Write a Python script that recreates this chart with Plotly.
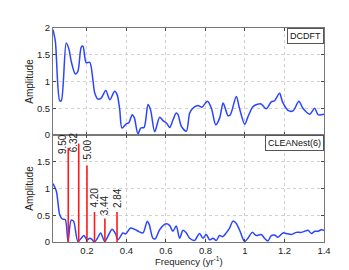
import plotly.graph_objects as go

# DCDFT spectrum (top panel)
dcdft_freq = [0.028, 0.04, 0.062, 0.07, 0.095, 0.109, 0.12, 0.141, 0.154, 0.171, 0.18, 0.196,
              0.214, 0.23, 0.239, 0.256, 0.272, 0.295, 0.316, 0.34, 0.353, 0.366, 0.377, 0.399,
              0.412, 0.429, 0.44, 0.458, 0.472, 0.489, 0.509, 0.522, 0.543, 0.568, 0.585, 0.603,
              0.619, 0.636, 0.652, 0.661, 0.678, 0.703, 0.72, 0.736, 0.762, 0.782, 0.81, 0.83,
              0.852, 0.872, 0.889, 0.9, 0.914, 0.926, 0.956, 0.972, 0.999, 1.016, 1.04, 1.06,
              1.081, 1.107, 1.133, 1.15, 1.175, 1.19, 1.218, 1.243, 1.273, 1.293, 1.328, 1.353,
              1.37, 1.4]
dcdft_amp = [1.97, 1.75, 0.64, 0.64, 1.72, 1.6, 1.38, 1.14, 1.19, 1.64, 1.66, 1.35,
             1.36, 1.03, 0.79, 0.67, 0.69, 0.83, 0.66, 0.82, 0.75, 0.47, 0.13, 0.21,
             0.23, 0.38, 0.32, 0.02, 0.13, 0.14, 0.57, 0.47, 0.06, 0.33, 0.27, 0.22,
             0.14, 0.29, 0.41, 0.38, 0.16, 0.07, 0.41, 0.5, 0.55, 0.52, 0.63, 0.5,
             0.19, 0.32, 0.6, 0.5, 0.36, 0.38, 0.72, 0.5, 0.2, 0.35, 0.53, 0.57,
             0.58, 0.49, 0.62, 0.64, 0.78, 0.62, 0.46, 0.45, 0.63, 0.5, 0.39, 0.5,
             0.38, 0.39]

# CLEANest residual spectrum (bottom panel)
clean_freq = [0.028, 0.045, 0.062, 0.075, 0.09, 0.104, 0.12, 0.132, 0.154, 0.171, 0.185, 0.2,
              0.214, 0.225, 0.237, 0.253, 0.269, 0.29, 0.305, 0.327, 0.344, 0.357, 0.382, 0.395,
              0.421, 0.45, 0.465, 0.484, 0.505, 0.515, 0.534, 0.546, 0.568, 0.601, 0.618, 0.635,
              0.652, 0.669, 0.686, 0.703, 0.72, 0.745, 0.77, 0.787, 0.804, 0.821, 0.838, 0.855,
              0.871, 0.888, 0.905, 0.922, 0.939, 0.953, 0.973, 0.998, 1.015, 1.037, 1.057, 1.082,
              1.099, 1.116, 1.133, 1.15, 1.167, 1.192, 1.209, 1.235, 1.26, 1.285, 1.302, 1.319,
              1.336, 1.353, 1.37, 1.386, 1.4]
clean_amp = [1.09, 0.95, 0.51, 0.43, 0.42, 0.01, 0.41, 0.39, 0.01, 0.07, 0.12, 0.04,
             0.07, 0.05, 0.0, 0.07, 0.17, 0.01, 0.1, 0.24, 0.16, 0.04, 0.17, 0.15,
             0.26, 0.22, 0.19, 0.17, 0.39, 0.33, 0.07, 0.06, 0.23, 0.34, 0.31, 0.2,
             0.3, 0.07, 0.22, 0.17, 0.07, 0.03, 0.16, 0.07, 0.14, 0.04, 0.07, 0.03,
             0.12, 0.1, 0.17, 0.26, 0.39, 0.36, 0.22, 0.01, 0.07, 0.18, 0.12, 0.14,
             0.07, 0.02, 0.12, 0.13, 0.09, 0.17, 0.16, 0.14, 0.18, 0.18, 0.2, 0.22,
             0.16, 0.2, 0.2, 0.23, 0.22]

# CLEANest(6) detected periods (yr) and amplitudes
periods = [9.50, 6.32, 5.00, 4.20, 3.44, 2.84]
period_labels = ["9.50", "6.32", "5.00", "4.20", "3.44", "2.84"]
period_amp = [1.76, 1.84, 1.43, 0.56, 0.44, 0.56]
label_shift = [(-5, -8), (-5, -11), (1, 4), (0, 2), (0, 1), (0, 2)]

x_ticks = [0.2, 0.4, 0.6, 0.8, 1.0, 1.2, 1.4]
x_tick_text = ["0.2", "0.4", "0.6", "0.8", "1", "1.2", "1.4"]
y_ticks_top = [0, 0.5, 1, 1.5, 2]
y_ticks_bot = [0, 0.5, 1, 1.5]

blue = "#2b44ff"
red = "#ff1a1a"
font = "Liberation Sans, Arial, sans-serif"

fig = go.Figure()
fig.add_trace(go.Scatter(x=dcdft_freq, y=dcdft_amp, mode="lines",
                         line=dict(color=blue, width=1.5, shape="spline", smoothing=0.8),
                         xaxis="x", yaxis="y", showlegend=False, hoverinfo="skip"))
fig.add_trace(go.Scatter(x=clean_freq, y=clean_amp, mode="lines",
                         line=dict(color=blue, width=1.5, shape="spline", smoothing=0.8),
                         xaxis="x2", yaxis="y2", showlegend=False, hoverinfo="skip"))

bx, by = [], []
for p, a in zip(periods, period_amp):
    f = 1.0 / p
    bx += [f, f, None]
    by += [0, a, None]
fig.add_trace(go.Scatter(x=bx, y=by, mode="lines", line=dict(color=red, width=1.6),
                         xaxis="x2", yaxis="y2", showlegend=False, hoverinfo="skip"))

annotations = []
for p, a, t, (dx, dy) in zip(periods, period_amp, period_labels, label_shift):
    annotations.append(dict(x=1.0 / p, y=a, xref="x2", yref="y2", text=t, textangle=-90,
                            showarrow=False, xanchor="center", yanchor="bottom",
                            xshift=dx, yshift=dy, font=dict(size=10, color="#222", family=font)))

annotations.append(dict(x=1, y=1, xref="paper", yref="paper", text="DCDFT", showarrow=False,
                        xanchor="right", yanchor="top", bgcolor="white", bordercolor="#555",
                        borderwidth=1, borderpad=2, font=dict(size=9, color="#111", family=font)))
annotations.append(dict(x=1, y=0.5, xref="paper", yref="paper", text="CLEANest(6)", showarrow=False,
                        xanchor="right", yanchor="top", bgcolor="white", bordercolor="#555",
                        borderwidth=1, borderpad=2, font=dict(size=9, color="#111", family=font)))
annotations.append(dict(x=0.5, y=0, xref="paper", yref="paper", text="Frequency (yr<sup>-1</sup>)",
                        showarrow=False, xanchor="center", yanchor="middle", yshift=-19,
                        font=dict(size=9.5, color="#222", family=font)))

axis_common = dict(showline=True, linecolor="#777", linewidth=1, mirror="ticks",
                   ticks="inside", ticklen=3, tickcolor="#444",
                   showgrid=True, gridcolor="#d0d0d0", griddash="dot", gridwidth=1,
                   zeroline=False, tickfont=dict(size=9.5, color="#222", family=font))

ytitle_font = dict(size=10, color="#222", family=font)

fig.update_layout(
    width=349, height=270,
    margin=dict(l=45, r=33, t=20, b=36),
    paper_bgcolor="white", plot_bgcolor="white",
    xaxis=dict(domain=[0, 1], anchor="y", range=[0.028, 1.4], tickvals=x_ticks,
               showticklabels=False, matches="x2", **axis_common),
    yaxis=dict(domain=[0.5, 1], anchor="x", range=[0, 2], tickvals=y_ticks_top,
               title=dict(text="Amplitude", font=ytitle_font, standoff=1),
               **axis_common),
    xaxis2=dict(domain=[0, 1], anchor="y2", range=[0.028, 1.4], tickvals=x_ticks,
                ticktext=x_tick_text, **axis_common),
    yaxis2=dict(domain=[0, 0.5], anchor="x2", range=[0, 2], tickvals=y_ticks_bot,
                title=dict(text="Amplitude", font=ytitle_font, standoff=1),
                **axis_common),
    annotations=annotations,
)

fig.write_html("out.html")
